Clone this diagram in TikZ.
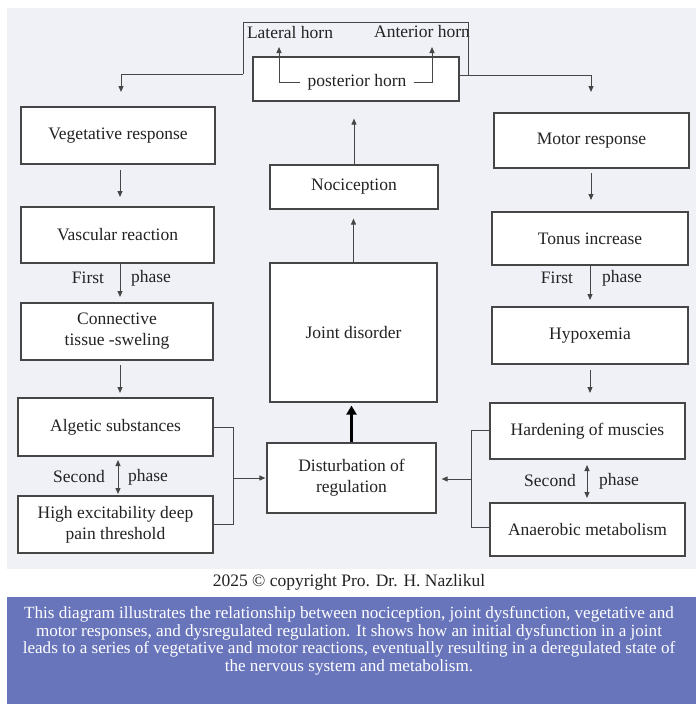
\documentclass[tikz,border=0pt]{standalone}
\usepackage{fontspec}
\setmainfont{Liberation Serif}
\usetikzlibrary{arrows.meta}
\definecolor{bgc}{RGB}{239,241,247}
\definecolor{bandc}{RGB}{104,117,187}
\definecolor{linec}{RGB}{70,70,70}
\definecolor{txtc}{RGB}{35,35,35}
\begin{document}
\begin{tikzpicture}[x=1pt,y=-1pt,
  box/.style={draw=linec, line width=1.2pt, fill=white, inner sep=2pt, align=center,
    text=txtc, font=\fontsize{17.5}{21}\selectfont},
  lbl/.style={text=txtc, font=\fontsize{17.5}{21}\selectfont, inner sep=1pt},
  ln/.style={draw=linec, line width=1pt},
  arr/.style={ln, -{Triangle[length=6pt,width=5pt]}},
  darr/.style={ln, {Triangle[length=6pt,width=5pt]}-{Triangle[length=6pt,width=5pt]}}
]
\useasboundingbox (0,0) rectangle (696,704);
\fill[white] (0,0) rectangle (696,704);
\fill[bgc] (7,8) rectangle (696,569);
\fill[bandc] (7,597) rectangle (696,704);

% top
\node[box, minimum width=206pt, minimum height=44pt] (ph) at (356,79) {};
\node[lbl] (pht) at (357,82) {posterior horn};
\node[lbl] (lat) at (290,33) {Lateral horn};
\node[lbl] (ant) at (422,32) {Anterior horn};
\coordinate (lhtip) at (279,47);
\coordinate (ahtip) at (432,47);
\draw[arr] ([xshift=-6pt]pht.west) -| (lhtip);
\draw[arr] ([xshift=6pt]pht.east) -| (ahtip);

% left column
\node[box, minimum width=194pt, minimum height=57pt] (veg) at (118,135.5) {Vegetative response};
\node[box, minimum width=193pt, minimum height=56pt] (vasc) at (117.5,235) {Vascular reaction};
\node[box, minimum width=192pt, minimum height=57pt] (conn) at (117,331.5) {Connective\\tissue -sweling};
\node[box, minimum width=195pt, minimum height=58pt] (alg) at (115.5,427) {Algetic substances};
\node[box, minimum width=195pt, minimum height=57pt] (high) at (115.5,524.5) {High excitability deep\\pain threshold};

% center column
\node[box, minimum width=168pt, minimum height=44pt] (noc) at (354,187) {Nociception};
\node[box, minimum width=167pt, minimum height=139pt] (joint) at (353.5,332.5) {Joint disorder};
\node[box, minimum width=169pt, minimum height=70pt] (dist) at (351.5,478) {Disturbation of\\regulation};

% right column
\node[box, minimum width=195pt, minimum height=55pt] (mot) at (591.5,140.5) {Motor response};
\node[box, minimum width=196pt, minimum height=53pt] (ton) at (590,238.5) {Tonus increase};
\node[box, minimum width=196pt, minimum height=57pt] (hyp) at (590,335.5) {Hypoxemia};
\node[box, minimum width=195pt, minimum height=56pt] (hard) at (587.5,431) {Hardening of muscies};
\node[box, minimum width=195pt, minimum height=53pt] (anae) at (587.5,529.5) {Anaerobic metabolism};

% phase labels
\node[lbl] (f1) at (88,278) {First};
\node[lbl] (p1) at (151,278) {phase};
\node[lbl] (s1) at (79,477) {Second};
\node[lbl] (p2) at (148,477) {phase};
\node[lbl] (f2) at (557,278) {First};
\node[lbl] (p3) at (622,278) {phase};
\node[lbl] (s2) at (550,481) {Second};
\node[lbl] (p4) at (619,481) {phase};

% top bracket and branches
\coordinate (bl) at (243,74);
\coordinate (br) at (468,75);
\coordinate (lt) at (121,92);
\coordinate (rt) at (591,92);
\draw[ln] (bl) -- (243,22) -- (468,22) -- (br);
\draw[arr] (bl) -| (lt);
\draw[arr] (ph.east |- br) -| (rt);

% left arrows
\draw[arr, shorten <=6pt, shorten >=10pt] (120,164) -- (120,207);
\draw[arr, shorten >=6pt] (120,263) -- (120,303);
\draw[arr, shorten <=5pt, shorten >=5pt] (120,360) -- (120,398);
\draw[darr, shorten <=4pt, shorten >=2pt] (118,456) -- (118,496);

% center arrows
\draw[line width=3.5pt, draw=black, -{Triangle[length=9pt,width=10pt]}, shorten >=3pt] (dist.north) -- (dist.north |- joint.south);
\draw[arr, shorten >=9pt] (joint.north) -- (joint.north |- noc.south);
\draw[arr, shorten >=17pt] (noc.north) -- (noc.north |- ph.south);

% right arrows
\draw[arr, shorten <=5pt, shorten >=12pt] (591,168) -- (591,212);
\draw[arr, shorten >=7pt] (590,265) -- (590,307);
\draw[arr, shorten <=6pt, shorten >=10pt] (590,364) -- (590,403);
\draw[darr, shorten <=6pt, shorten >=5pt] (587,459) -- (587,503);

% brackets to disturbation
\coordinate (lj) at (233,478);
\coordinate (rj) at (471,479);
\draw[ln] (alg.east |- 0,427) -- (233,427) -- (233,524) -- (high.east |- 0,524);
\draw[arr, shorten >=1pt] (lj) -- (dist.west |- lj);
\draw[ln] (hard.west |- 0,430) -- (471,430) -- (471,527) -- (anae.west |- 0,527);
\draw[arr, shorten >=5pt] (rj) -- (dist.east |- rj);

% footer
\node[text=txtc, font=\fontsize{17.5}{20}\selectfont] (copy) at (349,582) {2025 \textcopyright{} copyright Pro. Dr. H. Nazlikul};
\node[text=white, align=center, font=\fontsize{17.1}{17.6}\selectfont, inner sep=0pt] (cap) at (349,641)
{This diagram illustrates the relationship between nociception, joint dysfunction, vegetative and\\
motor responses, and dysregulated regulation. It shows how an initial dysfunction in a joint\\
leads to a series of vegetative and motor reactions, eventually resulting in a deregulated state of\\
the nervous system and metabolism.};
\end{tikzpicture}
\end{document}
